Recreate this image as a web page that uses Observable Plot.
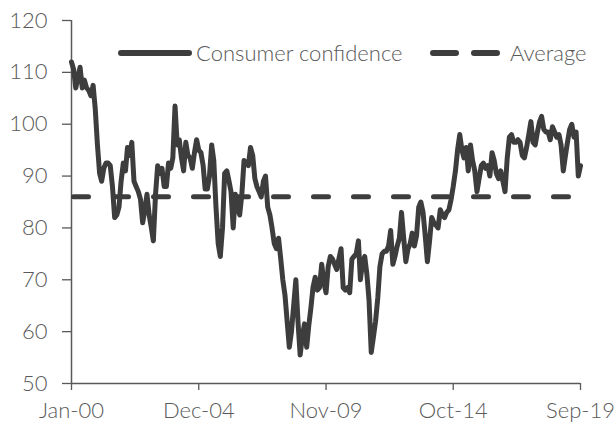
<!DOCTYPE html>
<html>
<head>
<meta charset="utf-8">
<script src="https://cdn.jsdelivr.net/npm/d3@7"></script>
<script src="https://cdn.jsdelivr.net/npm/@observablehq/plot@0.6"></script>
<style>
  html, body { margin: 0; padding: 0; background: #fff; }
  #wrap { position: relative; width: 616px; height: 423px; font-family: Lato, "Open Sans", sans-serif; font-weight: 300; }
  #legend { position: absolute; left: 0; top: 0; pointer-events: none; }
</style>
</head>
<body>
<div id="wrap"></div>
<script>
// ---- data ----
const startMonth = [2000, 0];          // Jan-00
const seriesName = "Consumer confidence";
const averageName = "Average";
const averageValue = 86;
const yTicks = [50, 60, 70, 80, 90, 100, 110, 120];
const xTickLabels = ["Jan-00", "Dec-04", "Nov-09", "Oct-14", "Sep-19"];
const values = [
  112, 110.5, 107, 109, 111, 107, 108.5, 107, 106.5, 105.5,
  107.5, 103, 96, 90.5, 89, 91.5, 92.5, 92.5, 92, 88,
  82, 82.5, 84, 89, 92.5, 91, 95.5, 94, 96.5, 89,
  88, 87, 85.5, 81, 83.5, 86.5, 82.5, 80, 77.5, 86.5,
  92, 90.5, 91.5, 88, 88, 92.5, 91.5, 93.5, 103.5, 96,
  97, 93.5, 91, 96.5, 94, 93.5, 91.5, 94.5, 97, 95,
  94.5, 92, 87.5, 87.5, 90, 96, 93, 84, 77, 74.5,
  80, 90.5, 91, 89, 87, 80, 86.5, 84, 82.5, 86.5,
  93, 92.5, 92, 95.5, 94, 89.5, 88, 87, 86, 89,
  90, 84, 82.5, 80, 77, 76, 78, 74, 70, 67,
  62, 57, 60, 65, 70, 62, 55.5, 59, 61.5, 57,
  61, 64.5, 68.5, 70.5, 68, 68.5, 73, 69.5, 67.5, 72.5,
  74.5, 74, 73, 72, 74, 76, 68.5, 68, 68.5, 67.5,
  74, 74.5, 75, 77.5, 70, 73.5, 74.5, 71, 66, 56,
  59, 62, 66.5, 72.5, 75, 75.5, 75.5, 76.5, 79.5, 73,
  74.5, 76.5, 78, 83, 78, 73.5, 76, 77, 79, 76.5,
  78.5, 84, 85, 83, 78.5, 73.5, 77.5, 82, 81, 80.5,
  80, 83.5, 82.5, 82, 83, 83.5, 85.5, 88, 91, 95,
  98, 95, 93.5, 95.5, 91, 96, 93, 91, 87, 89.5,
  92, 92.5, 91.5, 92, 90, 94.5, 93, 90.5, 89.5, 91,
  89, 87, 93.5, 97.5, 98, 96.5, 96.5, 97, 96.5, 94,
  93.5, 95.5, 98, 100.5, 96.5, 96, 98.5, 100.5, 101.5, 99,
  98.5, 98.5, 97, 99.5, 98.5, 97.5, 98, 96, 91, 94,
  96.5, 99, 100, 97.5, 98.5, 90, 92
];

// ---- build table ----
const fmt = d3.utcFormat("%b-%y");
const data = values.map((v, i) => ({ date: new Date(Date.UTC(startMonth[0], startMonth[1] + i, 1)), value: v }));
const xTicks = data.map(d => d.date).filter(d => xTickLabels.includes(fmt(d)));
const x0 = data[0].date, x1 = data[data.length - 1].date;

const ink = "#3d3d3d";
const axisInk = "#595959";
const fontStack = "Lato, 'Open Sans', sans-serif";

const chart = Plot.plot({
  width: 616,
  height: 423,
  marginLeft: 71,
  marginRight: 36,
  marginTop: 20,
  marginBottom: 40,
  style: { fontFamily: fontStack, fontWeight: 300, fontSize: "22px", color: axisInk, background: "#fff" },
  x: { type: "utc", domain: [x0, x1] },
  y: { domain: [50, 120] },
  marks: [
    Plot.axisY({ ticks: yTicks, tickSize: 9, tickPadding: 15, label: null, stroke: axisInk, strokeWidth: 1.3 }),
    Plot.axisX({ ticks: xTicks, tickFormat: fmt, tickSize: 7, tickPadding: 12, label: null, stroke: axisInk, strokeWidth: 1.3 }),
    Plot.ruleX([x0], { stroke: axisInk, strokeWidth: 1.5 }),
    Plot.ruleY([50], { stroke: axisInk, strokeWidth: 1.5 }),
    Plot.ruleY([averageValue], { stroke: ink, strokeWidth: 5, strokeDasharray: "15,25", strokeLinecap: "round", strokeDashoffset: -2.5 }),
    Plot.lineY(data, { x: "date", y: "value", stroke: ink, strokeWidth: 5, strokeLinejoin: "round", strokeLinecap: "round" })
  ]
});

const wrap = document.getElementById("wrap");
wrap.appendChild(chart);

// ---- legend overlay ----
const ns = "http://www.w3.org/2000/svg";
const leg = document.createElementNS(ns, "svg");
leg.setAttribute("id", "legend");
leg.setAttribute("width", 616);
leg.setAttribute("height", 423);
function el(tag, attrs, text) {
  const e = document.createElementNS(ns, tag);
  for (const k in attrs) e.setAttribute(k, attrs[k]);
  if (text) e.textContent = text;
  leg.appendChild(e);
  return e;
}
const ly = 53;
el("line", { x1: 121, x2: 189, y1: ly, y2: ly, stroke: ink, "stroke-width": 6, "stroke-linecap": "round" });
el("text", { x: 196, y: ly + 8, fill: axisInk, "font-size": 22, "font-weight": 300, "font-family": fontStack }, seriesName);
el("line", { x1: 433, x2: 456, y1: ly, y2: ly, stroke: ink, "stroke-width": 6, "stroke-linecap": "round" });
el("line", { x1: 474, x2: 497, y1: ly, y2: ly, stroke: ink, "stroke-width": 6, "stroke-linecap": "round" });
el("text", { x: 510, y: ly + 8, fill: axisInk, "font-size": 22, "font-weight": 300, "font-family": fontStack }, averageName);
wrap.appendChild(leg);
</script>
</body>
</html>
